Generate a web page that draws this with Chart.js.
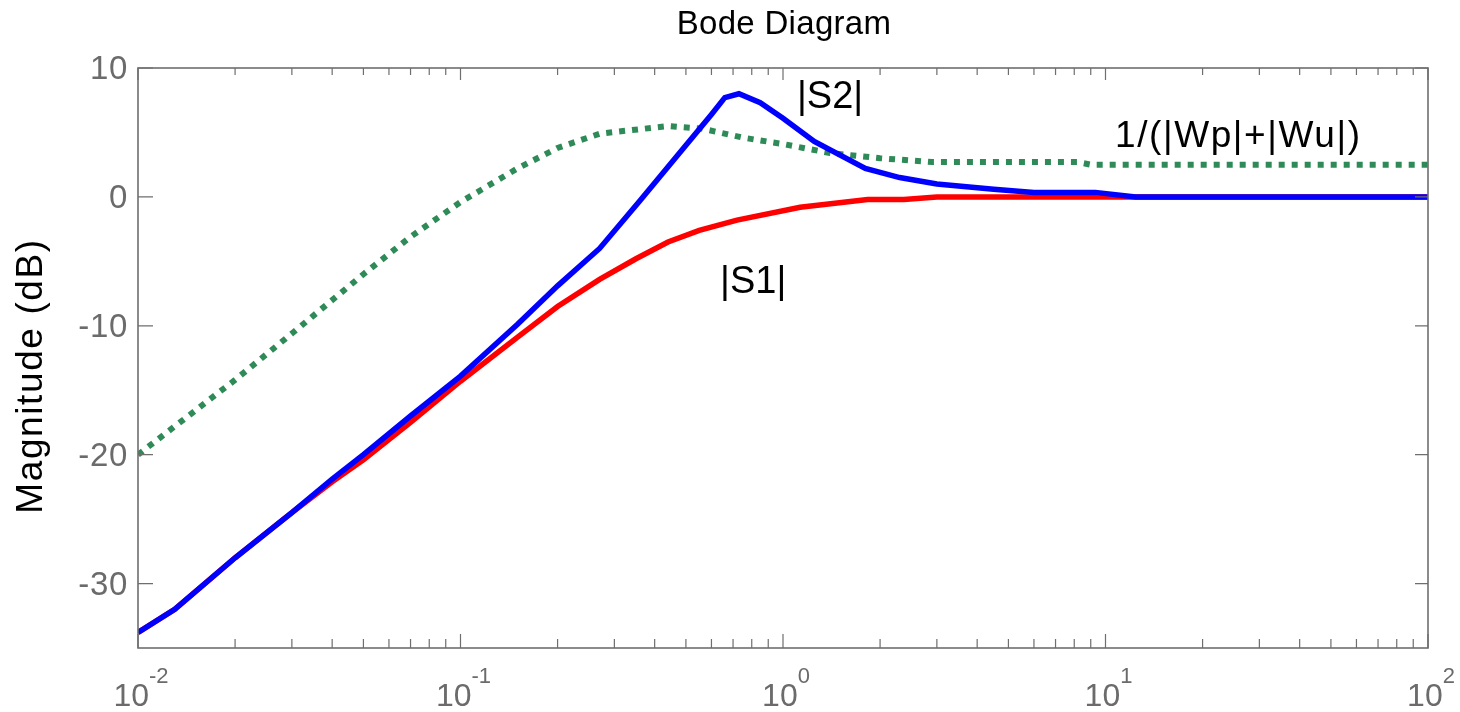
<!DOCTYPE html>
<html><head><meta charset="utf-8">
<script src="https://cdn.jsdelivr.net/npm/chart.js@4.4.0/dist/chart.umd.min.js"></script>
<style>html,body{margin:0;padding:0;background:#fff;} canvas{display:block;}</style>
</head><body>
<canvas id="c" width="1460" height="712"></canvas>
<script>
// ---- data ----
const freqS1 = [0.01, 0.013, 0.02, 0.03, 0.04, 0.05, 0.07, 0.1, 0.15, 0.2, 0.27, 0.35, 0.44, 0.55, 0.72, 1.13, 1.83, 2.37, 3.0, 100];
const magS1  = [-33.8, -32.0, -28.0, -24.5, -22.1, -20.4, -17.5, -14.3, -10.9, -8.5, -6.4, -4.8, -3.5, -2.6, -1.8, -0.8, -0.2, -0.2, 0, 0];

const freqS2 = [0.01, 0.013, 0.02, 0.03, 0.04, 0.05, 0.07, 0.1, 0.15, 0.2, 0.27, 0.36, 0.5, 0.6, 0.66, 0.73, 0.85, 1.0, 1.25, 1.8, 2.3, 3.0, 4.5, 6.0, 9.3, 12.4, 100];
const magS2  = [-33.8, -32.0, -28.0, -24.5, -21.9, -20.0, -17.0, -13.9, -9.9, -6.9, -4.0, -0.3, 4.0, 6.4, 7.7, 8.0, 7.3, 6.1, 4.3, 2.2, 1.5, 1.0, 0.6, 0.35, 0.35, 0, 0];

const freqW  = [0.01, 0.02, 0.03, 0.05, 0.07, 0.1, 0.15, 0.2, 0.27, 0.44, 0.56, 0.75, 1.0, 1.4, 2.0, 2.9, 4.7, 8.2, 9.0, 100];
const magW   = [-20, -14.2, -10.6, -6.0, -3.1, -0.4, 2.2, 3.8, 4.9, 5.5, 5.3, 4.6, 4.1, 3.4, 3.0, 2.7, 2.7, 2.7, 2.5, 2.5];

const xDecades = [0.01, 0.1, 1, 10, 100];
const xExponents = ['-2', '-1', '0', '1', '2'];
const xMinorMultipliers = [2, 3, 4, 5, 6, 7, 8, 9];
const yTicks = [10, 0, -10, -20, -30];
const yTickLabels = ['10', '0', '-10', '-20', '-30'];

const titleText = 'Bode Diagram';
const yAxisTitle = 'Magnitude (dB)';
const annotations = [
  { text: '|S2|', x: 1.105, y: 6.9 },
  { text: '|S1|', x: 0.638, y: -7.44 },
  { text: '1/(|Wp|+|Wu|)', x: 10.7, y: 3.88 }
];

const FONT = '"Liberation Sans", Arial, Helvetica, sans-serif';
function pts(fs, ms) { return fs.map((f, i) => ({ x: f, y: ms[i] })); }

function drawText(ctx, s, x, y, size, color, spacing, align) {
  ctx.font = size + 'px ' + FONT;
  try { ctx.letterSpacing = spacing + 'px'; } catch (e) {}
  ctx.textAlign = 'left';
  ctx.textBaseline = 'alphabetic';
  const w = ctx.measureText(s).width;
  let x0 = x;
  if (align === 'center') x0 = x - w / 2;
  else if (align === 'right') x0 = x - w;
  ctx.fillStyle = color;
  ctx.fillText(s, x0, y);
  return w;
}

const framePlugin = {
  id: 'framePlugin',
  afterDraw(chart) {
    const { ctx, chartArea: a, scales } = chart;
    const xs = scales.x, ys = scales.y;
    ctx.save();
    ctx.strokeStyle = '#6e6e6e';
    ctx.lineWidth = 1.6;
    ctx.strokeRect(a.left, a.top, a.right - a.left, a.bottom - a.top);
    ctx.lineWidth = 1.2;
    ctx.beginPath();
    xDecades.forEach((d, i) => {
      const px = xs.getPixelForValue(d);
      ctx.moveTo(px, a.bottom); ctx.lineTo(px, a.bottom - 14);
      ctx.moveTo(px, a.top); ctx.lineTo(px, a.top + 12);
      if (i < xDecades.length - 1) {
        xMinorMultipliers.forEach(m => {
          const pm = xs.getPixelForValue(d * m);
          ctx.moveTo(pm, a.bottom); ctx.lineTo(pm, a.bottom - 9);
          ctx.moveTo(pm, a.top); ctx.lineTo(pm, a.top + 7);
        });
      }
    });
    yTicks.forEach(v => {
      const py = ys.getPixelForValue(v);
      ctx.moveTo(a.left, py); ctx.lineTo(a.left + 15, py);
      ctx.moveTo(a.right, py); ctx.lineTo(a.right - 13, py);
    });
    ctx.stroke();

    yTicks.forEach((v, i) => {
      const py = ys.getPixelForValue(v);
      drawText(ctx, yTickLabels[i], a.left - 10, py + 11, 33, '#6b6b6b', 0.7, 'right');
    });
    xDecades.forEach((d, i) => {
      const px = xs.getPixelForValue(d);
      ctx.font = '32px ' + FONT; try { ctx.letterSpacing = '0px'; } catch (e) {}
      const wb = ctx.measureText('10').width;
      ctx.font = '22px ' + FONT;
      const we = ctx.measureText(xExponents[i]).width;
      const x0 = px + 3 - (wb + we) / 2;
      drawText(ctx, '10', x0, a.bottom + 58, 32, '#6b6b6b', 0, 'left');
      drawText(ctx, xExponents[i], x0 + wb, a.bottom + 35, 22, '#6b6b6b', 0, 'left');
    });

    drawText(ctx, titleText, (a.left + a.right) / 2 + 1, 34, 33, '#000', 0.3, 'center');
    ctx.save();
    ctx.translate(42, (a.top + a.bottom) / 2 + 18);
    ctx.rotate(-Math.PI / 2);
    drawText(ctx, yAxisTitle, 0, 0, 37, '#000', 1.6, 'center');
    ctx.restore();

    annotations.forEach((an, i) => {
      const px = xs.getPixelForValue(an.x), py = ys.getPixelForValue(an.y);
      if (i < 2) drawText(ctx, an.text, px, py, 38, '#000', 0, 'left');
      else drawText(ctx, an.text, px, py, 37, '#000', 1.6, 'left');
    });
    ctx.restore();
  }
};

new Chart(document.getElementById('c'), {
  type: 'line',
  data: {
    datasets: [
      { label: '|S1|', data: pts(freqS1, magS1), borderColor: '#ff0000', borderWidth: 5.5, pointRadius: 0, tension: 0, fill: false, order: 3 },
      { label: '1/(|Wp|+|Wu|)', data: pts(freqW, magW), borderColor: '#2e8b57', borderWidth: 6, borderDash: [6, 7], borderCapStyle: 'butt', pointRadius: 0, tension: 0, fill: false, order: 2 },
      { label: '|S2|', data: pts(freqS2, magS2), borderColor: '#0000ff', borderWidth: 5.5, pointRadius: 0, tension: 0, fill: false, order: 1 }
    ]
  },
  options: {
    responsive: false,
    devicePixelRatio: 1,
    animation: false,
    layout: { padding: { left: 138, right: 32, top: 68, bottom: 64 } },
    plugins: { legend: { display: false }, title: { display: false }, tooltip: { enabled: false } },
    scales: {
      x: { type: 'logarithmic', min: 0.01, max: 100, display: false },
      y: { type: 'linear', min: -35, max: 10, display: false }
    }
  },
  plugins: [framePlugin]
});
</script>
</body></html>
